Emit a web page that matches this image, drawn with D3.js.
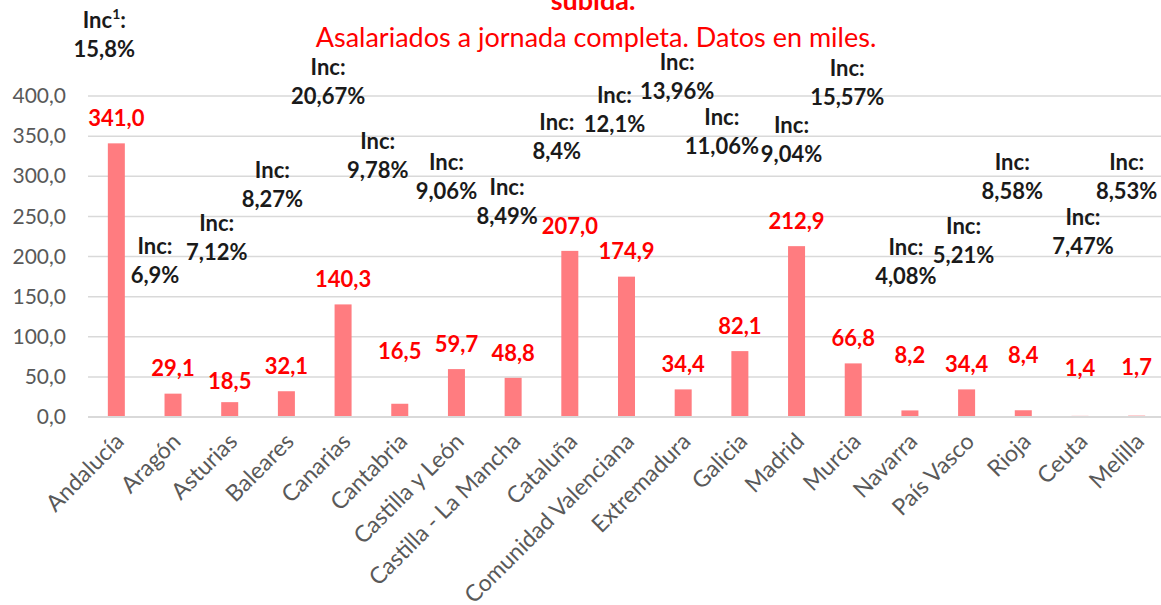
<!DOCTYPE html>
<html><head><meta charset="utf-8">
<script src="https://cdn.jsdelivr.net/npm/d3@7"></script>
<style>
html,body{margin:0;padding:0;background:#fff;}
svg{display:block;font-family:Lato,"Open Sans",sans-serif;}
</style></head>
<body>
<svg id="chart" width="1161" height="605"></svg>
<script>
// ---- data ----
const categories = ["Andalucía","Aragón","Asturias","Baleares","Canarias","Cantabria","Castilla y León","Castilla - La Mancha","Cataluña","Comunidad Valenciana","Extremadura","Galicia","Madrid","Murcia","Navarra","País Vasco","Rioja","Ceuta","Melilla"];
const values = [341.0,29.1,18.5,32.1,140.3,16.5,59.7,48.8,207.0,174.9,34.4,82.1,212.9,66.8,8.2,34.4,8.4,1.4,1.7];
const increases = ["15,8%","6,9%","7,12%","8,27%","20,67%","9,78%","9,06%","8,49%","8,4%","12,1%","13,96%","11,06%","9,04%","15,57%","4,08%","5,21%","8,58%","7,47%","8,53%"];
const yTicks = [0,50,100,150,200,250,300,350,400];
const titleText = "subida.";
const subtitleText = "Asalariados a jornada completa. Datos en miles.";

// ---- manual label layout (pixels) ----
const valueLabelNudge = [0,0,4,0,0,-27,0,0,0,0,0,0,0,0,-30,0,-30,-23,-23];
const incDx = [-12,-18,-13,-14,-15,-22,-10,-6,-13,-12,-6,-18,-5,-6,-4,-3,-11,3,-10];
const incY  = [20,246,223,170,67,141,162,187,122,95,62,117,125,68,247,226,162,217,162];

const svg = d3.select("#chart");
const W = 1161, H = 605;
svg.append("rect").attr("width",W).attr("height",H).attr("fill","#fff");

const x = d3.scaleBand().domain(categories).range([88,1165]).paddingInner(0.7).paddingOuter(0.35);
const y = d3.scaleLinear().domain([0,400]).range([417,96]);
const loc = d3.formatLocale({decimal:",",thousands:".",grouping:[3],currency:["","€"]});
const fmt = loc.format(".1f");

// gridlines
svg.append("g").selectAll("line").data(yTicks.filter(d=>d>0)).join("line")
  .attr("x1",88).attr("x2",W).attr("y1",d=>y(d)).attr("y2",d=>y(d))
  .attr("stroke","#d9d9d9").attr("stroke-width",1.5);

// y axis labels via d3.axisLeft
const yAxis = d3.axisLeft(y).tickValues(yTicks).tickFormat(fmt).tickSize(0).tickPadding(0);
const ga = svg.append("g").attr("transform","translate(66,0)").call(yAxis);
ga.select(".domain").remove();
ga.selectAll("text").attr("font-size",21).attr("fill","#595959").attr("font-family","Lato");

// bars
svg.append("g").selectAll("rect").data(values).join("rect")
  .attr("x",(d,i)=>x(categories[i])).attr("width",x.bandwidth())
  .attr("y",d=>y(d)).attr("height",d=>y(0)-y(d)).attr("fill","#ff7c80");

// baseline
svg.append("line").attr("x1",88).attr("x2",W).attr("y1",y(0)).attr("y2",y(0))
  .attr("stroke","#d9d9d9").attr("stroke-width",2);

// x axis labels
const xAxis = d3.axisBottom(x).tickSize(0).tickPadding(0);
const gx = svg.append("g").attr("transform",`translate(0,${y(0)})`).call(xAxis);
gx.select(".domain").remove();
gx.selectAll("text")
  .attr("font-size",23).attr("fill","#595959").attr("font-family","Lato")
  .attr("text-anchor","end").attr("dy",null).attr("y",0)
  .attr("transform","translate(9,26) rotate(-45)");

// value labels
svg.append("g").selectAll("text").data(values).join("text")
  .attr("x",(d,i)=>x(categories[i])+x.bandwidth()/2)
  .attr("y",(d,i)=>y(d)-25+valueLabelNudge[i])
  .attr("dy","0.35em").attr("text-anchor","middle")
  .attr("font-size",22).attr("font-weight","bold").attr("fill","#ff0000")
  .text(d=>fmt(d));

// increase labels
const gi = svg.append("g");
increases.forEach((s,i)=>{
  const cx = x(categories[i])+x.bandwidth()/2+incDx[i];
  const t1 = gi.append("text").attr("x",cx).attr("y",incY[i]).attr("dy","0.35em")
    .attr("text-anchor","middle").attr("font-size",22).attr("font-weight","bold").attr("fill","#1a1a1a");
  if(i===0){
    t1.append("tspan").text("Inc");
    t1.append("tspan").attr("font-size",14).attr("dy","-0.6em").text("1");
    t1.append("tspan").attr("dy","0.4em").text(":");
  } else t1.text("Inc:");
  gi.append("text").attr("x",cx).attr("y",incY[i]+29).attr("dy","0.35em")
    .attr("text-anchor","middle").attr("font-size",22).attr("font-weight","bold").attr("fill","#1a1a1a")
    .text(s);
});

// titles
svg.append("text").attr("x",593).attr("y",10).attr("text-anchor","middle")
  .attr("font-size",27).attr("font-weight","bold").attr("fill","#ff0000").text(titleText);
svg.append("text").attr("x",596).attr("y",47).attr("text-anchor","middle")
  .attr("font-size",27).attr("fill","#ff0000").text(subtitleText);
</script>
</body></html>
